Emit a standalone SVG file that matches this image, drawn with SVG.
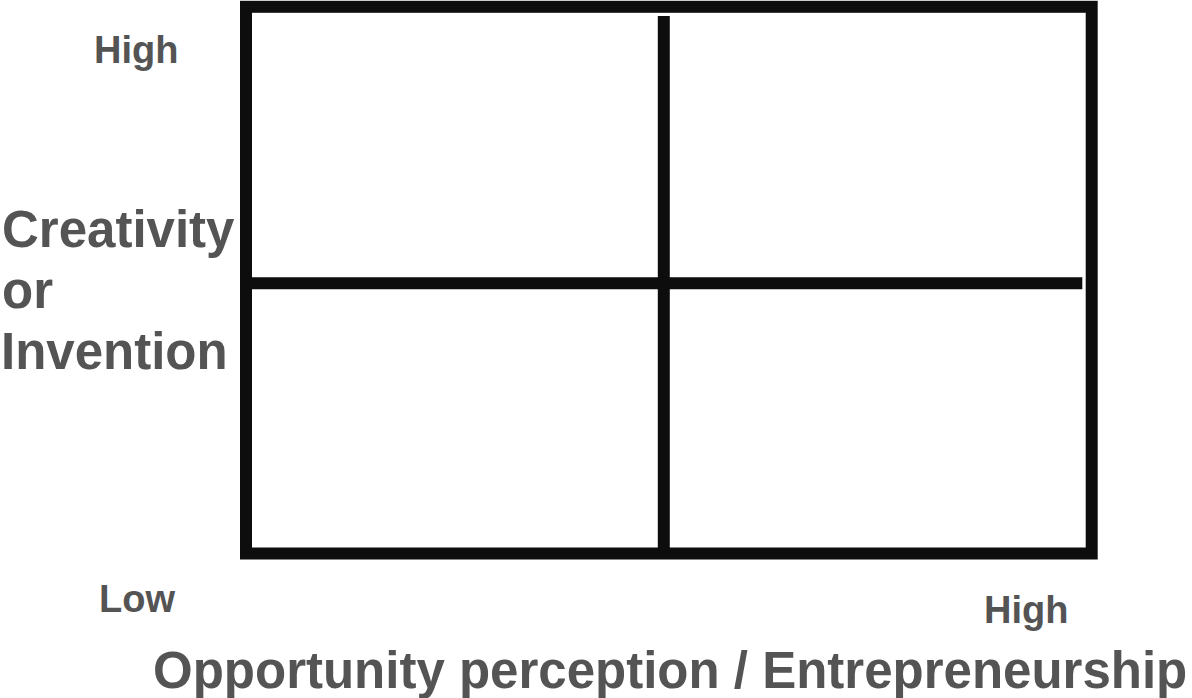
<svg xmlns="http://www.w3.org/2000/svg" width="1192" height="698" viewBox="0 0 1192 698">
<style>
.t{font-family:"Liberation Sans",Arial,sans-serif;font-weight:bold;fill:#545454}
.s{font-size:38px}
.b{font-size:51px}
.ln{stroke:#0d0d0d;stroke-width:12;fill:none}
</style>
<rect width="1192" height="698" fill="#ffffff"/>
<g id="frame">
<rect class="ln" x="246" y="6.8" width="845.7" height="546.7"/>
</g>
<g id="connectors">
<line class="ln" x1="663.8" y1="16" x2="663.8" y2="550"/>
<line class="ln" x1="250" y1="283.2" x2="1082.3" y2="283.2"/>
</g>
<g id="labels">
<text class="t b" x="2" y="247">Creativity</text>
<text class="t b" x="2" y="308">or</text>
<text class="t b" x="1" y="369">Invention</text>
<text class="t s" x="94" y="63">High</text>
<text class="t s" x="99" y="612">Low</text>
<text class="t s" x="984" y="623">High</text>
<text class="t b" x="153" y="688">Opportunity perception / Entrepreneurship</text>
</g>
</svg>
